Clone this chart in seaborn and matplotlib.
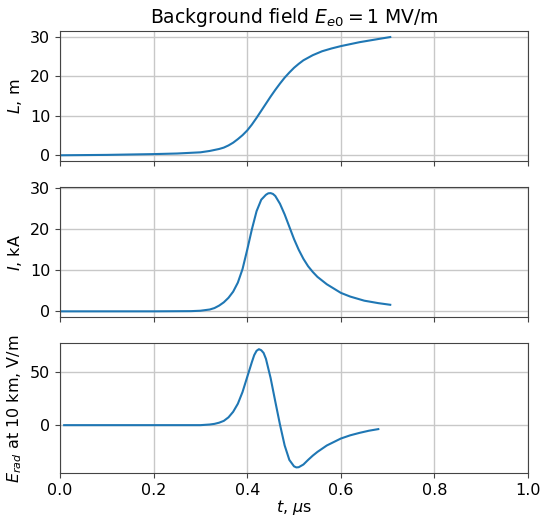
import numpy as np
import pandas as pd
import matplotlib
matplotlib.use("Agg")
import matplotlib.pyplot as plt
import seaborn as sns

# channel length L (m) vs time (us)
t_L = [0.0, 0.1, 0.2, 0.25, 0.3, 0.32, 0.34, 0.35, 0.36, 0.37, 0.38, 0.39, 0.4, 0.41, 0.42,
       0.43, 0.44, 0.45, 0.46, 0.47, 0.48, 0.49, 0.5, 0.51, 0.52, 0.54, 0.56, 0.58, 0.6,
       0.62, 0.64, 0.66, 0.68, 0.7055]
L_m = [0.0, 0.1, 0.3, 0.45, 0.75, 1.1, 1.6, 1.95, 2.5, 3.2, 4.1, 5.1, 6.3, 7.8, 9.5,
       11.3, 13.1, 14.9, 16.6, 18.2, 19.7, 21.0, 22.2, 23.2, 24.1, 25.4, 26.4, 27.1, 27.7,
       28.2, 28.7, 29.1, 29.5, 30.0]

# current I (kA)
t_I = [0.0, 0.1, 0.2, 0.28, 0.3, 0.32, 0.33, 0.34, 0.35, 0.36, 0.37, 0.38, 0.39, 0.4, 0.41,
       0.42, 0.43, 0.44, 0.445, 0.45, 0.455, 0.46, 0.47, 0.48, 0.49, 0.5, 0.51, 0.52, 0.53,
       0.54, 0.55, 0.57, 0.58, 0.6, 0.62, 0.65, 0.68, 0.7055]
I_kA = [0.0, 0.0, 0.0, 0.05, 0.15, 0.45, 0.8, 1.4, 2.2, 3.3, 4.8, 7.0, 10.3, 15.0, 20.0,
        24.4, 27.2, 28.4, 28.75, 28.8, 28.6, 28.1, 26.2, 23.6, 20.6, 17.6, 15.0, 12.8, 11.0,
        9.6, 8.4, 6.6, 5.9, 4.5, 3.6, 2.6, 2.0, 1.6]

# radiated field at 10 km (V/m)
t_E = [0.009, 0.1, 0.2, 0.3, 0.32, 0.33, 0.34, 0.35, 0.36, 0.37, 0.38, 0.39, 0.4, 0.41, 0.415,
       0.42, 0.425, 0.43, 0.435, 0.44, 0.45, 0.46, 0.47, 0.48, 0.49, 0.5, 0.505, 0.51, 0.52,
       0.53, 0.54, 0.55, 0.57, 0.6, 0.62, 0.64, 0.66, 0.68]
E_rad = [0.0, 0.0, 0.0, 0.0, 0.6, 1.2, 2.3, 4.0, 7.3, 12.5, 20.0, 31.0, 45.0, 59.0, 65.5,
         69.5, 71.0, 70.0, 67.5, 62.0, 44.0, 22.0, 0.5, -19.0, -32.5, -38.5, -39.5, -39.3, -36.8,
         -32.5, -28.5, -25.0, -19.0, -12.5, -9.5, -7.2, -5.2, -3.7]

fig, axes = plt.subplots(3, 1, figsize=(5.4, 5.19), dpi=100, sharex=True)
fig.subplots_adjust(left=0.111, right=0.978, bottom=0.088, top=0.94, hspace=0.2)

panels = [(t_L, L_m, "$L$, m"), (t_I, I_kA, "$I$, kA"), (t_E, E_rad, "$E_{rad}$ at 10 km, V/m")]
for ax, (x, y, lab) in zip(axes, panels):
    df = pd.DataFrame({"t": x, "v": y})
    sns.lineplot(data=df, x="t", y="v", ax=ax, color="#1f77b4", linewidth=1.5)
    ax.set_ylabel(lab, fontsize=11.5)
    ax.set_xlabel("")
    ax.grid(True, color="#c8c8c8", linewidth=1.0)
    ax.set_xlim(0, 1)
    ax.tick_params(labelsize=11.5, color="#444444")
    for sp in ax.spines.values():
        sp.set_color("#444444")

axes[0].set_title("Background field $E_{e0} = 1$ MV/m", fontsize=13.5)
axes[2].set_xlabel("$t$, $\\mu$s", fontsize=11.5, labelpad=0)

fig.savefig("out.png", dpi=100)
